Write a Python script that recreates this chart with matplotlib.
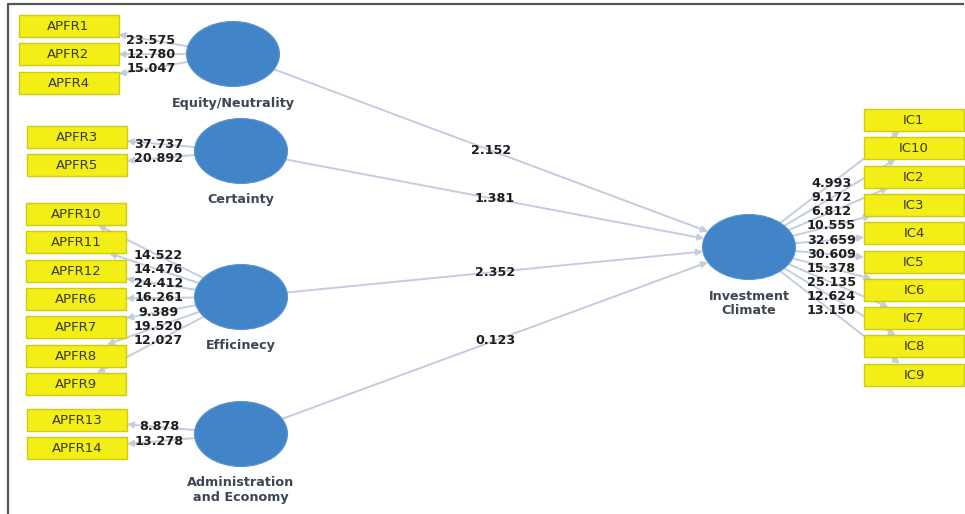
import matplotlib.pyplot as plt
from matplotlib.patches import Ellipse, Rectangle
import numpy as np

# constructos latentes y sus indicadores
latents = ['Equity/Neutrality', 'Certainty', 'Efficinecy', 'Administration\nand Economy', 'Investment\nClimate']
indicators = {
    'Equity/Neutrality': ['APFR1', 'APFR2', 'APFR4'],
    'Certainty': ['APFR3', 'APFR5'],
    'Efficinecy': ['APFR10', 'APFR11', 'APFR12', 'APFR6', 'APFR7', 'APFR8', 'APFR9'],
    'Administration\nand Economy': ['APFR13', 'APFR14'],
    'Investment\nClimate': ['IC1', 'IC10', 'IC2', 'IC3', 'IC4', 'IC5', 'IC6', 'IC7', 'IC8', 'IC9'],
}
# valores t de las cargas (outer model)
loadings = {
    'Equity/Neutrality': [23.575, 12.780, 15.047],
    'Certainty': [37.737, 20.892],
    'Efficinecy': [14.522, 14.476, 24.412, 16.261, 9.389, 19.520, 12.027],
    'Administration\nand Economy': [8.878, 13.278],
    'Investment\nClimate': [4.993, 9.172, 6.812, 10.555, 32.659, 30.609, 15.378, 25.135, 12.624, 13.150],
}
# valores t de los caminos (inner model)
path_from = ['Equity/Neutrality', 'Certainty', 'Efficinecy', 'Administration\nand Economy']
path_to = 'Investment\nClimate'
path_t = [2.152, 1.381, 2.352, 0.123]

# posiciones en pixeles (disposicion del diagrama)
centers = {
    'Equity/Neutrality': (233, 54),
    'Certainty': (241, 151),
    'Efficinecy': (241, 297),
    'Administration\nand Economy': (241, 434),
    'Investment\nClimate': (749, 247),
}
box_x = {
    'Equity/Neutrality': 68.5,
    'Certainty': 77,
    'Efficinecy': 76,
    'Administration\nand Economy': 77,
    'Investment\nClimate': 914,
}
box_y0 = {
    'Equity/Neutrality': 26,
    'Certainty': 137,
    'Efficinecy': 214,
    'Administration\nand Economy': 420,
    'Investment\nClimate': 120,
}
box_step = 28.3
RX, RY = 46.5, 32.5
BW, BH = 100, 22

LINE = '#c3cde0'
BLUE = '#4185c8'
YEL = '#f2ee16'


def ellipse_pt(c, t):
    dx, dy = t[0] - c[0], t[1] - c[1]
    k = 1 / np.sqrt((dx / RX) ** 2 + (dy / RY) ** 2)
    return (c[0] + k * dx, c[1] + k * dy)


def box_pt(c, t):
    dx, dy = t[0] - c[0], t[1] - c[1]
    kx = (BW / 2) / abs(dx) if dx != 0 else np.inf
    ky = (BH / 2) / abs(dy) if dy != 0 else np.inf
    k = min(kx, ky)
    return (c[0] + k * dx, c[1] + k * dy)


def arrow(ax, a, b):
    ax.annotate('', xy=b, xytext=a,
                arrowprops=dict(arrowstyle='-|>', color=LINE, lw=1.4,
                                shrinkA=0, shrinkB=0, mutation_scale=9),
                zorder=1)


fig = plt.figure(figsize=(9.65, 5.14), dpi=100)
ax = fig.add_axes([0, 0, 1, 1])
ax.set_xlim(0, 965)
ax.set_ylim(514, 0)
ax.axis('off')

# marco
ax.plot([8, 8, 963], [514, 4, 4], color='#555555', lw=1.6, zorder=5)

# modelo de medida
for lv in latents:
    c = centers[lv]
    for i, (name, val) in enumerate(zip(indicators[lv], loadings[lv])):
        bc = (box_x[lv], box_y0[lv] + box_step * i)
        arrow(ax, ellipse_pt(c, bc), box_pt(bc, c))
        ax.add_patch(Rectangle((bc[0] - BW / 2, bc[1] - BH / 2), BW, BH,
                               facecolor=YEL, edgecolor='#cfcb10', lw=1, zorder=2))
        ax.text(bc[0], bc[1] + 0.5, name, ha='center', va='center', fontsize=9.5,
                color='#3a3a2a', zorder=3)
        mx, my = (bc[0] + c[0]) / 2, (bc[1] + c[1]) / 2
        ax.text(mx, my, f'{val:.3f}', ha='center', va='center', fontsize=9.2,
                fontweight='bold', color='#1e1e1e', zorder=4)

# modelo estructural
tc = centers[path_to]
for lv, val in zip(path_from, path_t):
    c = centers[lv]
    arrow(ax, ellipse_pt(c, tc), ellipse_pt(tc, c))
    ax.text((c[0] + tc[0]) / 2, (c[1] + tc[1]) / 2, f'{val:.3f}', ha='center',
            va='center', fontsize=9.2, fontweight='bold', color='#1e1e1e', zorder=4)

# circulos latentes y sus nombres
for lv in latents:
    c = centers[lv]
    ax.add_patch(Ellipse(c, 2 * RX, 2 * RY, facecolor=BLUE, edgecolor='#5a95cf',
                         lw=0.8, zorder=2))
    for j, line in enumerate(lv.split('\n')):
        ax.text(c[0], c[1] + 49 + 14 * j, line, ha='center', va='center',
                fontsize=9.2, fontweight='bold', color='#3d4653', zorder=3)

fig.savefig('out.png', dpi=100)
